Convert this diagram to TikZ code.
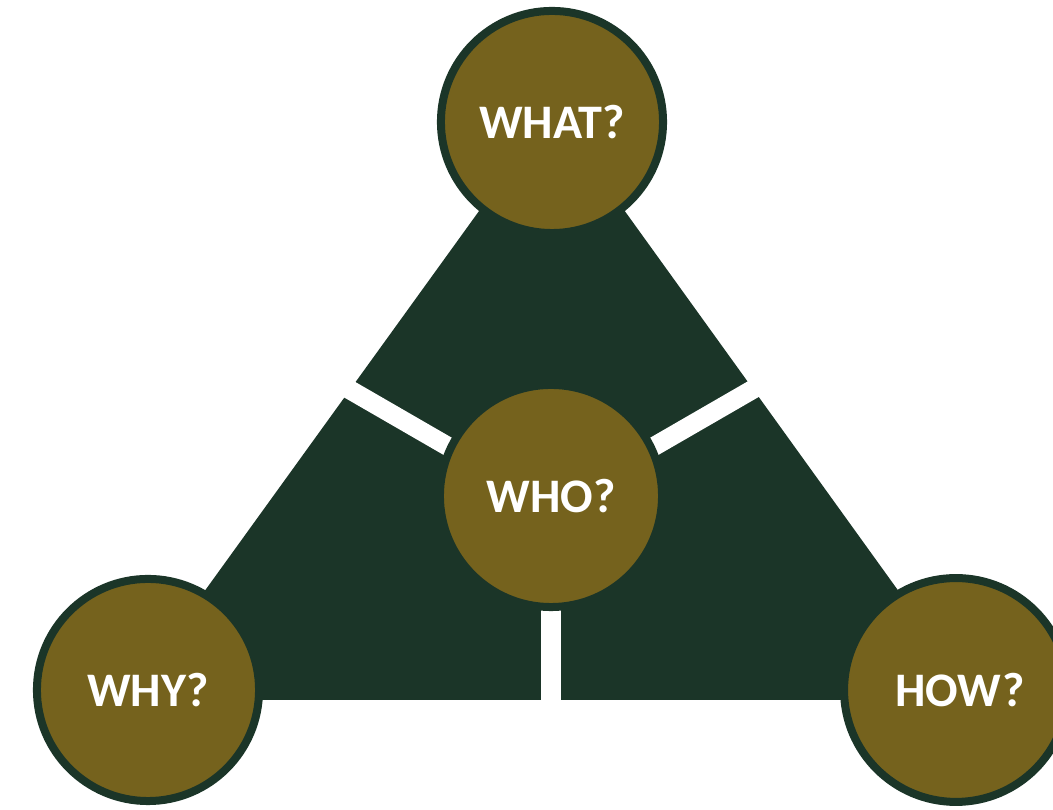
\documentclass[tikz,border=0pt]{standalone}
\usepackage{fontspec}
\setmainfont{Carlito}
\usetikzlibrary{positioning}
\definecolor{darkpine}{RGB}{27,53,40}
\definecolor{olivegold}{RGB}{117,98,29}

\begin{document}
\begin{tikzpicture}[
    x=0.01cm, y=-0.01cm,
    ball/.style={circle, draw=darkpine, line width=0.08cm, fill=olivegold, minimum size=2.22cm, inner sep=0pt, font=\fontsize{13.7}{16}\selectfont\bfseries, text=white},
    gap/.style={white, line width=0.19cm}
]
\useasboundingbox (0,0) rectangle (1053,810);

% Triangle
\coordinate (top) at (552,110);
\coordinate (left) at (126,700);
\coordinate (right) at (977,700);
\coordinate (mid) at (551,506);
\fill[darkpine] (top) -- (left) -- (right) -- cycle;

% White gaps
\coordinate (lgap) at (300,361);
\coordinate (rgap) at (802,361);
\coordinate (bgap) at (551,760);
\draw[gap] (mid) -- (lgap);
\draw[gap] (mid) -- (rgap);
\draw[gap] (mid) -- (bgap);

% Circles
\node[ball] (what) at (552,122) {WHAT?};
\node[ball] (who) at (551,496) {WHO?};
\node[ball] (why) at (148,690) {WHY?};
\node[ball, text width=2.22cm, align=center] (how) at (956,690) {\hspace*{0.08cm}HOW?};

\end{tikzpicture}
\end{document}
